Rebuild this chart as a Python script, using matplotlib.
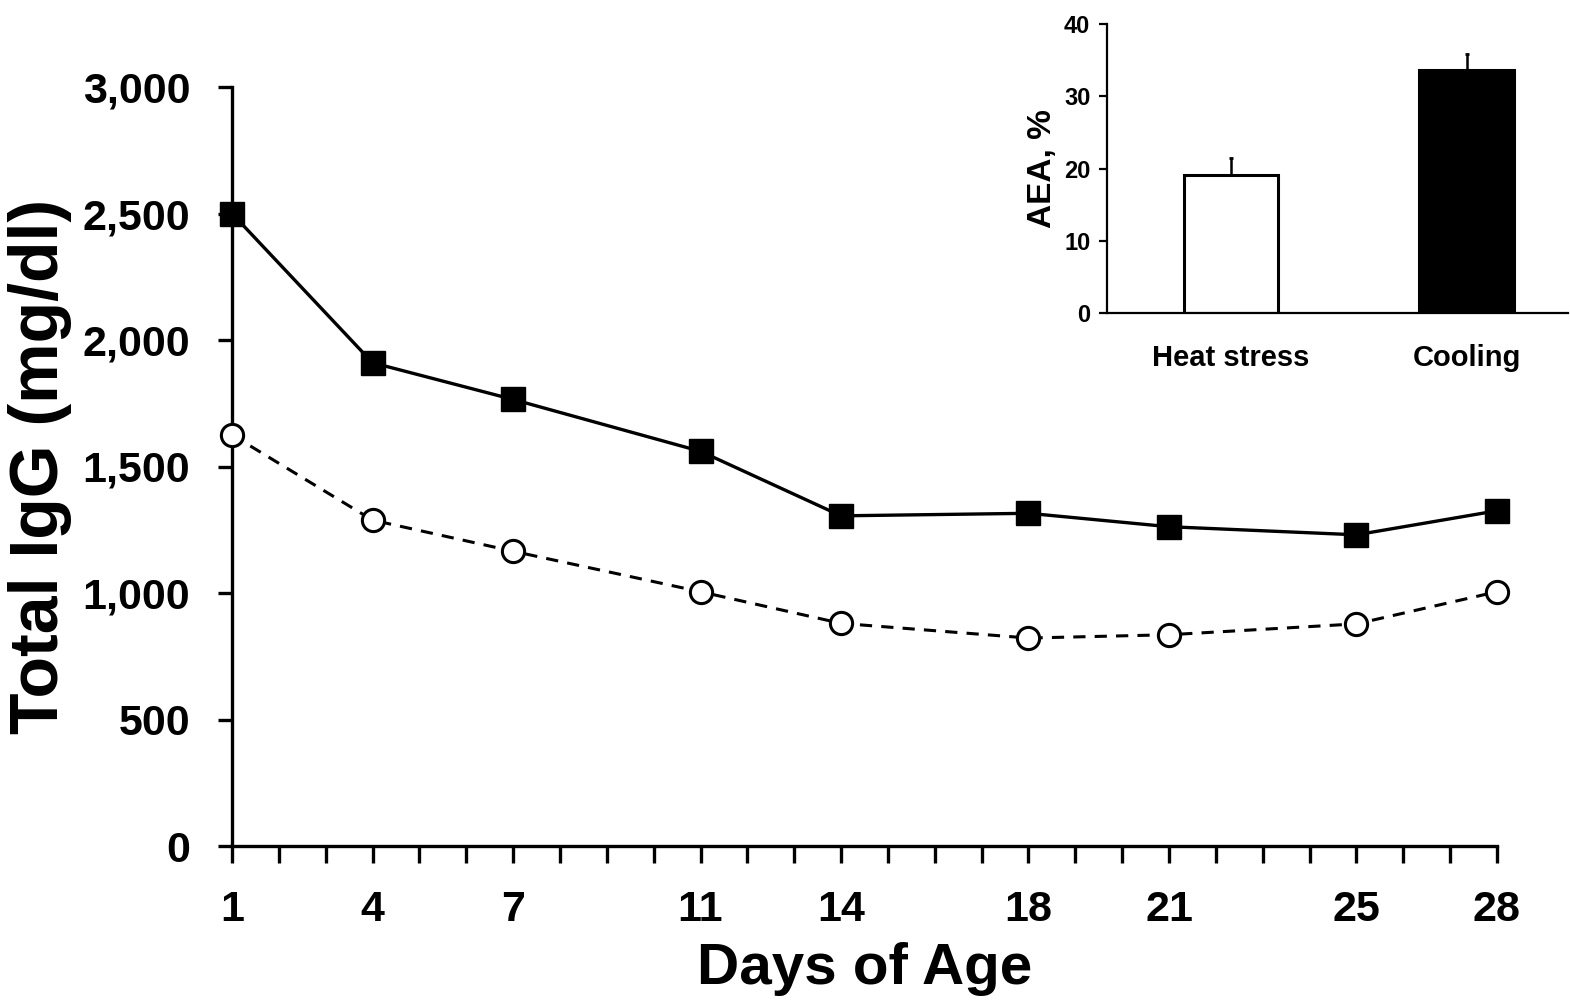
import matplotlib
matplotlib.use("Agg")
import matplotlib.pyplot as plt
from matplotlib.ticker import FuncFormatter, MultipleLocator

days = [1, 4, 7, 11, 14, 18, 21, 25, 28]
cooling_igg = [2500, 1910, 1765, 1560, 1305, 1315, 1262, 1230, 1325]
heat_igg = [1625, 1288, 1165, 1005, 880, 822, 835, 878, 1005]
y_ticks = [0, 500, 1000, 1500, 2000, 2500, 3000]

inset_groups = ["Heat stress", "Cooling"]
inset_values = [19.1, 33.6]
inset_errors = [2.3, 2.3]
inset_colors = ["white", "black"]
inset_ticks = [0, 10, 20, 30, 40]

FONT = ["Liberation Sans", "Arial", "DejaVu Sans"]
plt.rcParams["font.family"] = FONT
plt.rcParams["font.weight"] = "bold"

fig = plt.figure(figsize=(15.7, 10), dpi=100)
ax = fig.add_axes([232/1570, 1-846/1000, (1497-232)/1570, (846-87)/1000])

ax.plot(days, cooling_igg, color="black", lw=2.4, marker="s", ms=17.5,
        mfc="black", mec="black", zorder=3, clip_on=False)
ax.plot(days, heat_igg, color="black", lw=2.2, ls=(0, (4, 3)), marker="o", ms=16,
        mfc="white", mec="black", mew=2.2, zorder=3, clip_on=False)

ax.set_xlim(1, 28)
ax.set_ylim(0, 3000)
ax.set_xticks(days)
ax.xaxis.set_minor_locator(MultipleLocator(1))
ax.set_yticks(y_ticks)
ax.yaxis.set_major_formatter(FuncFormatter(lambda v, p: f"{int(v):,}"))
for s in ["top", "right"]:
    ax.spines[s].set_visible(False)
for s in ["left", "bottom"]:
    ax.spines[s].set_linewidth(2.4)
ax.tick_params(axis="x", which="both", direction="out", length=12, width=2.4, pad=20)
ax.tick_params(axis="y", which="major", direction="out", length=10, width=2.4, pad=20)
for lab in ax.get_xticklabels() + ax.get_yticklabels():
    lab.set_fontweight("bold")
    lab.set_fontsize(31)
ax.set_xlabel("Days of Age", fontweight="bold", fontsize=42, labelpad=8)
ax.set_ylabel("Total IgG (mg/dl)", fontweight="bold", fontsize=49, labelpad=8)

# inset
ia = fig.add_axes([1107/1570, 1-313/1000, (1568-1107)/1570, (313-24)/1000])
xpos = [0, 1]
ia.bar(xpos, inset_values, width=0.4, color=inset_colors, edgecolor="black", linewidth=2.2, zorder=2)
ia.errorbar(xpos, inset_values, yerr=[[0, 0], inset_errors], fmt="none", ecolor="black",
            elinewidth=1.8, capsize=1.5, capthick=2, zorder=1)
ia.set_xlim(-0.525, 1.43)
ia.set_ylim(0, 40)
ia.set_xticks(xpos)
ia.set_xticklabels(inset_groups)
ia.set_yticks(inset_ticks)
for s in ["top", "right"]:
    ia.spines[s].set_visible(False)
for s in ["left", "bottom"]:
    ia.spines[s].set_linewidth(1.6)
ia.tick_params(axis="x", length=0, pad=22)
ia.tick_params(axis="y", direction="out", length=6, width=1.6, pad=6)
for lab in ia.get_xticklabels():
    lab.set_fontweight("bold"); lab.set_fontsize(21)
for lab in ia.get_yticklabels():
    lab.set_fontweight("bold"); lab.set_fontsize(17)
ia.set_ylabel("AEA, %", fontweight="bold", fontsize=24, labelpad=4)

fig.savefig("out.png", dpi=100)
